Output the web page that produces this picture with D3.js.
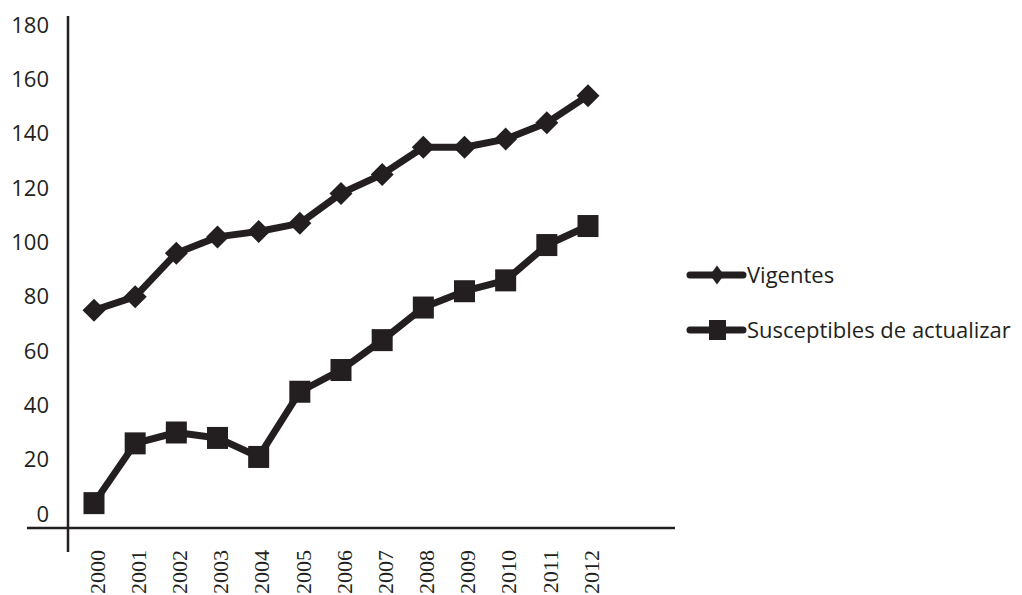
<!DOCTYPE html>
<html>
<head>
<meta charset="utf-8">
<script src="https://cdn.jsdelivr.net/npm/d3@7"></script>
<style>
  body { margin: 0; background: #fff; }
  svg { display: block; }
  .ylab text { font-family: "Open Sans", sans-serif; font-size: 22px; fill: #231f20; }
  .xlab { font-family: "Liberation Serif", serif; font-size: 22px; fill: #231f20; }
  .legend text { font-family: "Open Sans", sans-serif; font-size: 22px; fill: #231f20; }
</style>
</head>
<body>
<div id="chart"></div>
<script>
// data
const years = ["2000", "2001", "2002", "2003", "2004", "2005", "2006",
               "2007", "2008", "2009", "2010", "2011", "2012"];
const vigentes = [75, 80, 96, 102, 104, 107, 118, 125, 135, 135, 138, 144, 154];
const susceptibles = [4, 26, 30, 28, 21, 45, 53, 64, 76, 82, 86, 99, 106];
const yTicks = [0, 20, 40, 60, 80, 100, 120, 140, 160, 180];
const seriesNames = ["Vigentes", "Susceptibles de actualizar"];

const width = 1022, height = 595;
const ink = "#231f20";

const svg = d3.select("#chart")
  .append("svg")
  .attr("width", width)
  .attr("height", height);

// scales
const x = d3.scalePoint().domain(years).range([94, 588]);
const y = d3.scaleLinear().domain([0, 180]).range([514, 25]);

// axis lines (frame)
svg.append("line")
  .attr("x1", 68).attr("x2", 68)
  .attr("y1", 16).attr("y2", 552)
  .attr("stroke", ink).attr("stroke-width", 2.5);

svg.append("line")
  .attr("x1", 27).attr("x2", 675)
  .attr("y1", 528).attr("y2", 528)
  .attr("stroke", ink).attr("stroke-width", 2.5);

// y tick labels
svg.append("g")
  .attr("class", "ylab")
  .attr("transform", "translate(68,0)")
  .call(d3.axisLeft(y).tickValues(yTicks).tickSize(0).tickPadding(19))
  .call(g => g.select(".domain").remove());

// x tick labels, rotated
svg.append("g")
  .selectAll("text")
  .data(years)
  .join("text")
  .attr("class", "xlab")
  .attr("transform", d => `translate(${x(d) + 3},550) rotate(-90)`)
  .attr("text-anchor", "end")
  .attr("dy", "0.35em")
  .text(d => d);

// lines
const line = d3.line()
  .x((d, i) => x(years[i]))
  .y(d => y(d));

[vigentes, susceptibles].forEach(s => {
  svg.append("path")
    .datum(s)
    .attr("fill", "none")
    .attr("stroke", ink)
    .attr("stroke-width", 7)
    .attr("stroke-linejoin", "round")
    .attr("d", line);
});

// markers
const diamond = (cx, cy, w, h) =>
  `M${cx},${cy - h / 2}L${cx + w / 2},${cy}L${cx},${cy + h / 2}L${cx - w / 2},${cy}Z`;

svg.append("g")
  .selectAll("path")
  .data(vigentes)
  .join("path")
  .attr("d", (d, i) => diamond(x(years[i]), y(d), 23, 23))
  .attr("fill", ink);

svg.append("g")
  .selectAll("rect")
  .data(susceptibles)
  .join("rect")
  .attr("x", (d, i) => x(years[i]) - 10.5)
  .attr("y", d => y(d) - 11)
  .attr("width", 21)
  .attr("height", 22)
  .attr("fill", ink);

// legend
const legend = svg.append("g").attr("class", "legend");
const legendY = [275, 330];

seriesNames.forEach((name, i) => {
  const ly = legendY[i];
  legend.append("line")
    .attr("x1", 690).attr("x2", 743)
    .attr("y1", ly).attr("y2", ly)
    .attr("stroke", ink).attr("stroke-width", 7)
    .attr("stroke-linecap", "round");
  if (i === 0) {
    legend.append("path")
      .attr("d", diamond(717, ly, 14, 19))
      .attr("fill", ink);
  } else {
    legend.append("rect")
      .attr("x", 709).attr("y", ly - 10)
      .attr("width", 17).attr("height", 20)
      .attr("fill", ink);
  }
  legend.append("text")
    .attr("x", 747)
    .attr("y", ly)
    .attr("dy", "0.35em")
    .text(name);
});
</script>
</body>
</html>
